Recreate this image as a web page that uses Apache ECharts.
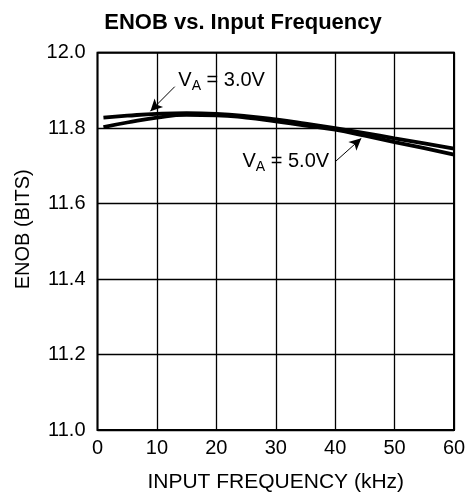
<!DOCTYPE html>
<html>
<head>
<meta charset="utf-8">
<script src="https://cdn.jsdelivr.net/npm/echarts@6/dist/echarts.min.js"></script>
<style>
  html, body { margin: 0; padding: 0; background: #fff; }
  #main { width: 471px; height: 498px; }
</style>
</head>
<body>
<div id="main"></div>
<script>
// 频率 (kHz)
var freq = [1, 5, 10, 15, 20, 25, 30, 35, 40, 45, 50, 55, 60];
// ENOB, VA = 3.0V
var enob3v = [11.828, 11.833, 11.838, 11.840, 11.838, 11.832, 11.823, 11.812, 11.800, 11.787, 11.773, 11.760, 11.746];
// ENOB, VA = 5.0V
var enob5v = [11.803, 11.815, 11.828, 11.835, 11.834, 11.828, 11.818, 11.807, 11.796, 11.780, 11.763, 11.747, 11.730];
var yTicks = [11.0, 11.2, 11.4, 11.6, 11.8, 12.0];
var xTicks = [0, 10, 20, 30, 40, 50, 60];

var FONT = 'Liberation Sans, Arial, Helvetica, sans-serif';

function pairs(xs, ys) {
  return xs.map(function (x, i) { return [x, ys[i]]; });
}

// 标注文字 V_A = x.xV
var richText = {
  t: { fontSize: 20, color: '#000', fontFamily: FONT },
  s: { fontSize: 14, color: '#000', fontFamily: FONT, padding: [12, 0, 0, 0] }
};

var myChart = echarts.init(document.getElementById('main'));
myChart.setOption({
  animation: false,
  title: {
    text: 'ENOB vs. Input Frequency',
    left: 238,
    textAlign: 'center',
    top: 7,
    textStyle: { fontFamily: FONT, fontWeight: 'bold', fontSize: 22, color: '#000' }
  },
  grid: {
    left: 97.5,
    right: 17,
    top: 52.7,
    bottom: 67.3,
    show: true,
    borderColor: '#000',
    borderWidth: 2,
    backgroundColor: 'transparent'
  },
  xAxis: {
    type: 'value',
    min: xTicks[0],
    max: xTicks[xTicks.length - 1],
    interval: 10,
    name: 'INPUT FREQUENCY (kHz)',
    nameLocation: 'middle',
    nameGap: 42,
    nameTextStyle: { fontFamily: FONT, fontSize: 21, color: '#000' },
    axisLine: { show: false },
    axisTick: { show: false },
    axisLabel: { fontFamily: FONT, fontSize: 20, color: '#000', margin: 8 },
    splitLine: { show: true, lineStyle: { color: '#000', width: 1.3 } }
  },
  yAxis: {
    type: 'value',
    min: yTicks[0],
    max: yTicks[yTicks.length - 1],
    interval: 0.2,
    name: 'ENOB (BITS)',
    nameLocation: 'middle',
    nameGap: 64,
    nameTextStyle: { fontFamily: FONT, fontSize: 20, color: '#000', padding: [0, 0, 0, 24] },
    axisLine: { show: false },
    axisTick: { show: false },
    axisLabel: {
      fontFamily: FONT, fontSize: 20, color: '#000', margin: 12,
      formatter: function (v) { return v.toFixed(1); }
    },
    splitLine: { show: true, lineStyle: { color: '#000', width: 1.3 } }
  },
  series: [
    {
      name: 'VA = 3.0V',
      type: 'line',
      smooth: true,
      symbol: 'none',
      data: pairs(freq, enob3v),
      lineStyle: { color: '#000', width: 3.8 },
      z: 3,
      markLine: {
        silent: true,
        symbol: ['none', 'arrow'],
        symbolSize: [9, 12],
        label: { show: false },
        lineStyle: { color: '#000', width: 1, type: 'solid' },
        data: [[{ coord: [13.0, 11.910] }, { coord: [8.9, 11.845] }]]
      },
      markPoint: {
        silent: true,
        symbol: 'circle',
        symbolSize: 0,
        data: [{ coord: [13.6, 11.926] }],
        label: {
          show: true,
          position: 'right',
          distance: 0,
          formatter: '{t|V}{s|A}{t| = 3.0V}',
          rich: richText
        }
      }
    },
    {
      name: 'VA = 5.0V',
      type: 'line',
      smooth: true,
      symbol: 'none',
      data: pairs(freq, enob5v),
      lineStyle: { color: '#000', width: 3.8 },
      z: 3,
      markLine: {
        silent: true,
        symbol: ['none', 'arrow'],
        symbolSize: [9, 12],
        label: { show: false },
        lineStyle: { color: '#000', width: 1, type: 'solid' },
        data: [[{ coord: [40.0, 11.711] }, { coord: [44.4, 11.773] }]]
      },
      markPoint: {
        silent: true,
        symbol: 'circle',
        symbolSize: 0,
        data: [{ coord: [24.4, 11.712] }],
        label: {
          show: true,
          position: 'right',
          distance: 0,
          formatter: '{t|V}{s|A}{t| = 5.0V}',
          rich: richText
        }
      }
    }
  ]
});
</script>
</body>
</html>
